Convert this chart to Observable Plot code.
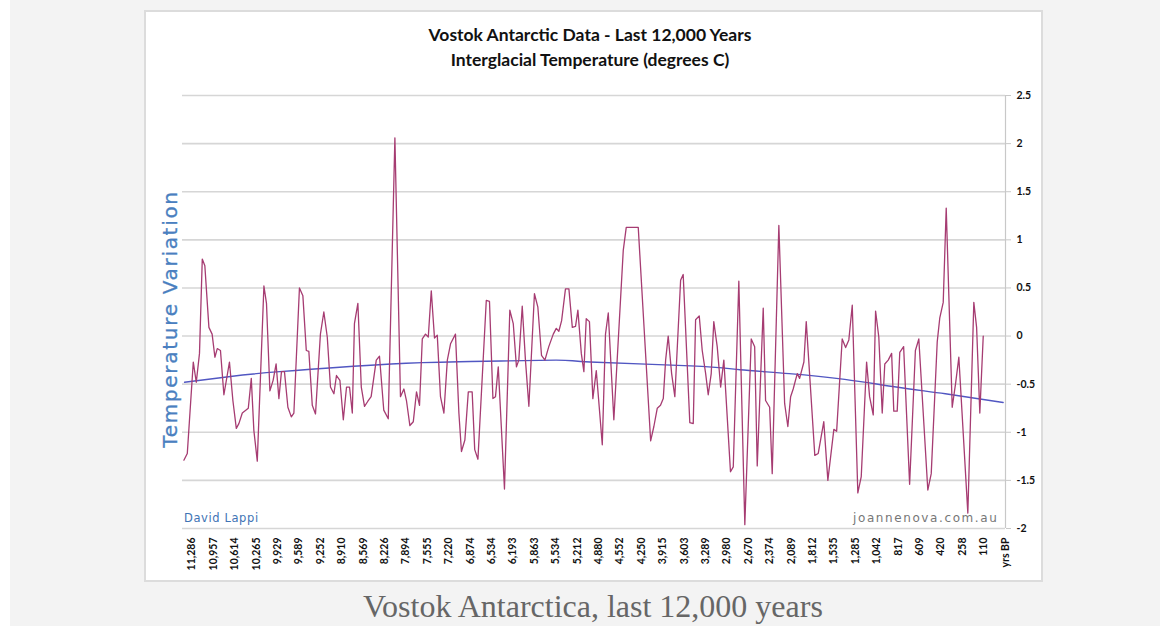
<!DOCTYPE html>
<html>
<head>
<meta charset="utf-8">
<script src="https://cdn.jsdelivr.net/npm/d3@7"></script>
<script src="https://cdn.jsdelivr.net/npm/@observablehq/plot@0.6"></script>
<style>
  html, body { margin: 0; padding: 0; }
  body { width: 1168px; height: 626px; position: relative; overflow: hidden; background: #ffffff; }
  #bg { position: absolute; left: 10px; top: 0; width: 1150px; height: 626px; background: #f3f3f3; }
  #card { position: absolute; left: 144px; top: 10px; width: 899px; height: 572px; background: #fff; border: 2px solid #dcdcdc; box-sizing: border-box; }
  #chart { position: absolute; left: 0; top: 0; }
  .t { position: absolute; white-space: nowrap; }
  #title1, #title2 { left: 0; width: 1180px; text-align: center; font-family: Lato, sans-serif; font-weight: bold; font-size: 17.5px; color: #111; }
  #title1 { top: 24px; }
  #title2 { top: 49px; }
  #ylab { left: 170px; top: 319px; transform: translate(-50%, -50%) rotate(-90deg); font-family: "DejaVu Sans", sans-serif; font-size: 20px; letter-spacing: 1.7px; color: #4a7fc0; -webkit-text-stroke: 0.3px #4a7fc0; }
  #credit1 { left: 184px; top: 511px; font-family: "DejaVu Sans", sans-serif; font-size: 11.5px; letter-spacing: 0.6px; color: #3f74b5; }
  #credit2 { left: 853px; top: 511px; font-family: "DejaVu Sans", sans-serif; font-size: 12px; letter-spacing: 1.6px; color: #777; }
  #caption { left: 0; width: 1186px; top: 588px; text-align: center; font-family: "Liberation Serif", serif; font-size: 32px; color: #666; }
</style>
</head>
<body>
<div id="bg"></div>
<div id="card"></div>
<div id="chart"></div>
<div class="t" id="title1">Vostok Antarctic Data - Last 12,000 Years</div>
<div class="t" id="title2">Interglacial Temperature (degrees C)</div>
<div class="t" id="ylab">Temperature Variation</div>
<div class="t" id="credit1">David Lappi</div>
<div class="t" id="credit2">joannenova.com.au</div>
<div class="t" id="caption">Vostok Antarctica, last 12,000 years</div>
<script>
// Category labels (years BP) shown on the x axis, one per label slot
const xLabels = ["11,286","10,957","10,614","10,265","9,929","9,589","9,252","8,910","8,569","8,226",
  "7,894","7,555","7,220","6,874","6,534","6,193","5,863","5,534","5,212","4,880",
  "4,552","4,250","3,915","3,603","3,289","2,980","2,670","2,374","2,089","1,812",
  "1,535","1,285","1,042","817","609","420","258","110","yrs BP"];

// Sample position along the category axis (in label-slot units)
const samplePos = [
  -0.38,-0.22,0.06,0.20,0.35,0.48,0.60,0.79,0.94,1.07,1.18,1.33,1.49,1.75,1.91,2.07,2.19,2.35,2.63,2.77,
  2.89,3.05,3.36,3.48,3.64,3.79,3.93,4.06,4.18,4.32,4.48,4.64,4.76,5.02,5.18,5.34,5.46,5.62,5.77,6.00,
  6.16,6.32,6.47,6.63,6.75,6.91,7.07,7.22,7.36,7.49,7.59,7.75,7.91,8.06,8.21,8.37,8.61,8.76,8.96,9.17,
  9.48,9.74,9.90,10.02,10.18,10.34,10.49,10.63,10.76,10.91,11.04,11.18,11.33,11.46,11.61,11.77,11.93,12.08,12.31,12.47,
  12.59,12.75,12.91,13.09,13.21,13.36,13.75,13.90,14.06,14.18,14.31,14.60,14.85,15.01,15.16,15.27,15.43,15.58,15.74,16.00,
  16.16,16.33,16.49,16.67,16.88,17.02,17.14,17.27,17.45,17.61,17.77,17.92,18.03,18.19,18.31,18.42,18.57,18.73,
  18.89,19.17,19.32,19.45,19.71,20.15,20.29,20.85,21.43,21.58,21.74,21.89,22.02,22.13,22.25,22.41,22.56,22.83,22.95,23.26,
  23.42,23.53,23.70,23.84,24.00,24.12,24.26,24.38,24.54,24.70,24.85,25.16,25.29,25.55,25.83,26.13,26.29,26.41,26.69,26.80,
  26.99,27.11,27.42,27.69,27.84,27.97,28.09,28.28,
  28.39,28.59,28.70,29.10,29.26,29.52,29.71,29.99,30.12,30.38,30.54,30.69,30.85,31.11,31.27,31.52,31.66,31.83,31.94,32.09,
  32.25,32.37,32.53,32.69,32.79,32.95,33.07,33.25,33.53,33.80,33.96,34.38,34.54,34.82,34.94,35.10,35.24,35.36,35.52,35.68,
  35.83,36.25,36.53,36.66,36.81,36.97
];

// Temperature variation (degrees C)
const tempVar = [
  -1.29,-1.22,-0.27,-0.48,-0.18,0.80,0.73,0.09,0.02,-0.22,-0.13,-0.15,-0.61,-0.27,-0.67,-0.96,-0.91,-0.80,-0.75,-0.44,
  -0.98,-1.30,0.52,0.34,-0.57,-0.46,-0.29,-0.65,-0.37,-0.37,-0.74,-0.84,-0.80,0.50,0.42,-0.15,-0.16,-0.72,-0.81,0.02,
  0.25,-0.01,-0.53,-0.60,-0.41,-0.46,-0.87,-0.53,-0.53,-0.80,0.13,0.34,-0.53,-0.73,-0.68,-0.63,-0.25,-0.21,-0.77,-0.86,
  2.06,-0.63,-0.55,-0.67,-0.93,-0.89,-0.58,-0.72,-0.03,0.02,-0.01,0.47,-0.02,0.01,-0.63,-0.80,-0.25,-0.08,0.02,-0.80,
  -1.20,-1.08,-0.58,-0.58,-1.18,-1.28,0.37,0.36,-0.65,-0.63,-0.32,-1.59,0.27,0.13,-0.32,-0.25,0.31,-0.25,-0.73,0.44,
  0.30,-0.20,-0.25,-0.11,0.02,0.08,0.05,0.16,0.49,0.49,0.09,0.10,0.27,-0.18,-0.37,0.18,0.15,-0.65,
  -0.36,-1.13,0.02,0.24,-0.87,0.89,1.13,1.13,-1.09,-0.94,-0.75,-0.72,-0.65,-0.25,0.00,-0.39,-0.63,0.58,0.64,-0.90,
  -0.91,0.17,0.21,-0.15,-0.39,-0.61,-0.39,0.15,-0.11,-0.53,-0.25,-1.41,-1.36,0.57,-1.96,-0.03,-0.11,-1.35,0.29,-0.67,
  -0.74,-1.43,1.15,-0.70,-0.94,-0.63,-0.55,-0.39,
  -0.44,-0.27,0.15,-1.24,-1.22,-0.89,-1.50,-0.97,-0.99,-0.03,-0.12,-0.04,0.32,-1.63,-1.46,-0.27,-0.63,-0.82,0.26,-0.01,
  -0.80,-0.29,-0.25,-0.18,-0.78,-0.78,-0.17,-0.11,-1.54,-0.15,-0.03,-1.60,-1.43,-0.06,0.19,0.35,1.33,0.44,-0.74,-0.49,
  -0.22,-1.84,0.35,0.09,-0.80,0.00
];

// Polynomial trend line
const trendPos = [-0.35, 1.8, 4.1, 9.3, 13.0, 17.0, 18.6, 23.3, 25.6, 27.9, 30.5, 32.9, 35.2, 37.9];
const trendVal = [-0.48, -0.42, -0.37, -0.29, -0.265, -0.25, -0.27, -0.31, -0.35, -0.39, -0.45, -0.53, -0.60, -0.69];

const yTicks = [-2, -1.5, -1, -0.5, 0, 0.5, 1, 1.5, 2, 2.5];
const xDomain = [-0.444, 38.01];

const series = samplePos.map((p, i) => ({pos: p, temp: tempVar[i]}));
const trend = trendPos.map((p, i) => ({pos: p, temp: trendVal[i]}));
const labelSlots = xLabels.map((_, i) => i);

const chart = Plot.plot({
  width: 1168,
  height: 585,
  marginTop: 95,
  marginBottom: 57,
  marginLeft: 182,
  marginRight: 163,
  style: {background: "transparent", overflow: "visible"},
  x: {domain: xDomain, axis: null},
  y: {domain: [-2, 2.5], axis: null},
  marks: [
    Plot.gridY(yTicks, {stroke: "#d6d6d6", strokeOpacity: 1, strokeWidth: 1.6}),
    Plot.ruleX([xDomain[1]], {stroke: "#c8c8c8", strokeWidth: 1.2}),
    Plot.axisY({
      anchor: "right", ticks: yTicks, tickSize: 5, tickPadding: 6,
      stroke: "#c8c8c8", strokeOpacity: 1, fontWeight: "bold", fontSize: 10.5, fontFamily: "Lato, sans-serif",
      fill: "#111", tickFormat: d => String(d), label: null
    }),
    Plot.line(trend, {x: "pos", y: "temp", curve: "natural", stroke: "#5157c2", strokeWidth: 1.4}),
    Plot.line(series, {x: "pos", y: "temp", stroke: "#a63c72", strokeWidth: 1.3}),
    Plot.axisX(labelSlots, {
      anchor: "bottom", tickSize: 0, tickPadding: 9, tickRotate: -90,
      tickFormat: i => xLabels[i], fontWeight: "bold", fontSize: 10.5,
      fontFamily: "Lato, sans-serif", fill: "#111", label: null
    })
  ]
});
document.getElementById("chart").appendChild(chart);
</script>
</body>
</html>
